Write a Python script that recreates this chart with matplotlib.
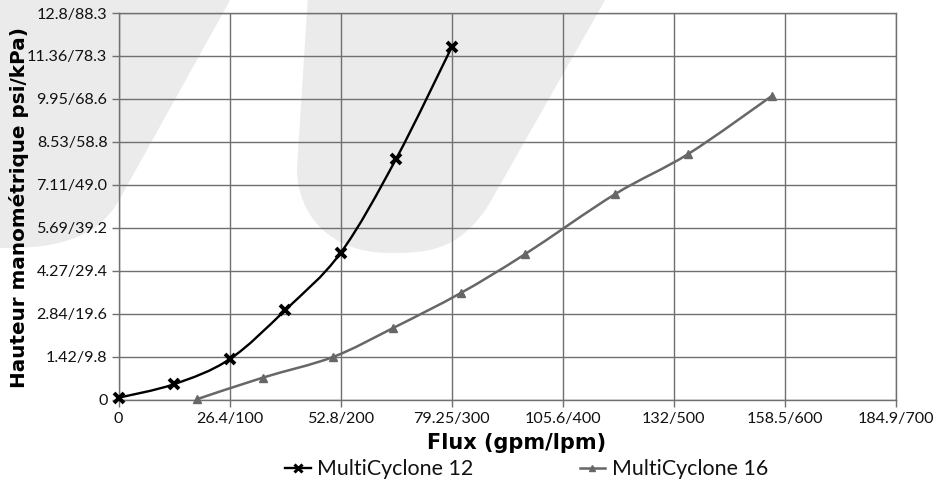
import numpy as np
import matplotlib
matplotlib.use("Agg")
import matplotlib.pyplot as plt
from matplotlib.path import Path
from matplotlib.patches import PathPatch
from matplotlib.lines import Line2D

# ---------------- data ----------------
mc12_lpm = [0, 50, 100, 150, 200, 250, 300]
mc12_kpa = [0.4, 3.5, 9.2, 20.4, 33.5, 55.0, 80.5]

mc16_lpm = [71, 130, 193, 247, 308, 366, 447, 513, 588]
mc16_kpa = [0.1, 5.0, 9.7, 16.3, 24.3, 33.2, 46.9, 56.1, 69.3]

x_ticks = [0, 100, 200, 300, 400, 500, 600, 700]
x_tick_labels = ["0", "26.4/100", "52.8/200", "79.25/300", "105.6/400",
                 "132/500", "158.5/600", "184.9/700"]
y_ticks = [0, 9.81, 19.62, 29.43, 39.24, 49.05, 58.86, 68.67, 78.48, 88.29]
y_tick_labels = ["0", "1.42/9.8", "2.84/19.6", "4.27/29.4", "5.69/39.2",
                 "7.11/49.0", "8.53/58.8", "9.95/68.6", "11.36/78.3", "12.8/88.3"]

series_names = ["MultiCyclone 12", "MultiCyclone 16"]
x_label = "Flux (gpm/lpm)"
y_label = "Hauteur manométrique psi/kPa)"

# ---------------- style ----------------
REG = ["Lato", "DejaVu Sans"]
BOLD = ["DejaVu Sans"]
plt.rcParams["font.family"] = REG
W, H = 944, 484
fig = plt.figure(figsize=(W / 100, H / 100), dpi=100)
fig.patch.set_facecolor("white")

def px(x, y):
    return (x / W, 1 - y / H)

# watermark shapes (decorative, figure pixel coords)
wm_color = "#ebebeb"
shapeA = [
    (Path.MOVETO, (-20, -5)), (Path.LINETO, (233, -5)), (Path.LINETO, (118, 202)),
    (Path.CURVE4, (98, 236)), (Path.CURVE4, (60, 248)), (Path.CURVE4, (10, 248)),
    (Path.LINETO, (-20, 248)), (Path.CLOSEPOLY, (-20, -5)),
]
shapeB = [
    (Path.MOVETO, (308, -5)), (Path.LINETO, (608, -5)), (Path.LINETO, (488, 206)),
    (Path.CURVE4, (458, 252)), (Path.CURVE4, (425, 253)), (Path.CURVE4, (390, 253)),
    (Path.CURVE4, (330, 253)), (Path.CURVE4, (297, 215)), (Path.CURVE4, (297, 168)),
    (Path.CLOSEPOLY, (308, -5)),
]
for shp in (shapeA, shapeB):
    codes = [c for c, _ in shp]
    verts = [px(*v) for _, v in shp]
    fig.add_artist(PathPatch(Path(verts, codes), facecolor=wm_color, edgecolor="none",
                             transform=fig.transFigure, zorder=-5))

ax = fig.add_axes([118.5 / W, 1 - 399.5 / H, (896 - 118.5) / W, (399.5 - 13) / H])
ax.set_facecolor("none")
ax.set_xlim(0, 700)
ax.set_ylim(0, 88.29)

grid_c = "#707070"
ax.set_xticks(x_ticks)
ax.set_xticklabels(x_tick_labels)
ax.set_yticks(y_ticks)
ax.set_yticklabels(y_tick_labels)
ax.grid(True, color=grid_c, linewidth=1.0)
ax.set_axisbelow(True)
for s in ax.spines.values():
    s.set_color(grid_c)
    s.set_linewidth(1.0)
ax.tick_params(axis="both", colors=grid_c, length=5, width=1.0,
               labelcolor="#111111", labelsize=11.6)
ax.tick_params(axis="x", pad=4)
ax.tick_params(axis="y", pad=3)


def smooth_path(xs, ys):
    pts = np.column_stack([xs, ys]).astype(float)
    n = len(pts)
    verts = [pts[0]]
    codes = [Path.MOVETO]
    for i in range(n - 1):
        p0 = pts[i - 1] if i > 0 else pts[i]
        p1 = pts[i]
        p2 = pts[i + 1]
        p3 = pts[i + 2] if i + 2 < n else pts[i + 1]
        c1 = p1 + (p2 - p0) / 6.0
        c2 = p2 - (p3 - p1) / 6.0
        verts += [c1, c2, p2]
        codes += [Path.CURVE4] * 3
    return Path(verts, codes)


c12 = "#000000"
c16 = "#676767"
ax.add_patch(PathPatch(smooth_path(mc12_lpm, mc12_kpa), facecolor="none",
                       edgecolor=c12, linewidth=1.7, zorder=3))
ax.add_patch(PathPatch(smooth_path(mc16_lpm, mc16_kpa), facecolor="none",
                       edgecolor=c16, linewidth=1.8, zorder=3))
ax.plot(mc12_lpm, mc12_kpa, linestyle="none", marker="x", markersize=7.5,
        markeredgewidth=2.8, color=c12, zorder=4, clip_on=False)
ax.plot(mc16_lpm, mc16_kpa, linestyle="none", marker="^", markersize=6,
        color=c16, zorder=4, clip_on=False)

fig.text(*px(517, 443), x_label, ha="center", va="center", fontsize=15,
         fontweight="bold", color="#000000", family=BOLD)
fig.text(*px(19, 207), y_label, ha="center", va="center", fontsize=14.4,
         fontweight="bold", rotation=90, color="#000000", family=BOLD)

handles = [
    Line2D([], [], color=c12, linewidth=1.7, marker="x", markersize=5.5,
           markeredgewidth=2.2),
    Line2D([], [], color=c16, linewidth=1.8, marker="^", markersize=4.5),
]
fig.legend(handles, series_names, loc="center left", bbox_to_anchor=px(285, 469),
           ncol=2, frameon=False, fontsize=15.4, handlelength=1.2,
           handletextpad=0.3, columnspacing=4.97, labelcolor="#111111",
           borderaxespad=0, borderpad=0)

fig.savefig("out.png", dpi=100, facecolor="white")
